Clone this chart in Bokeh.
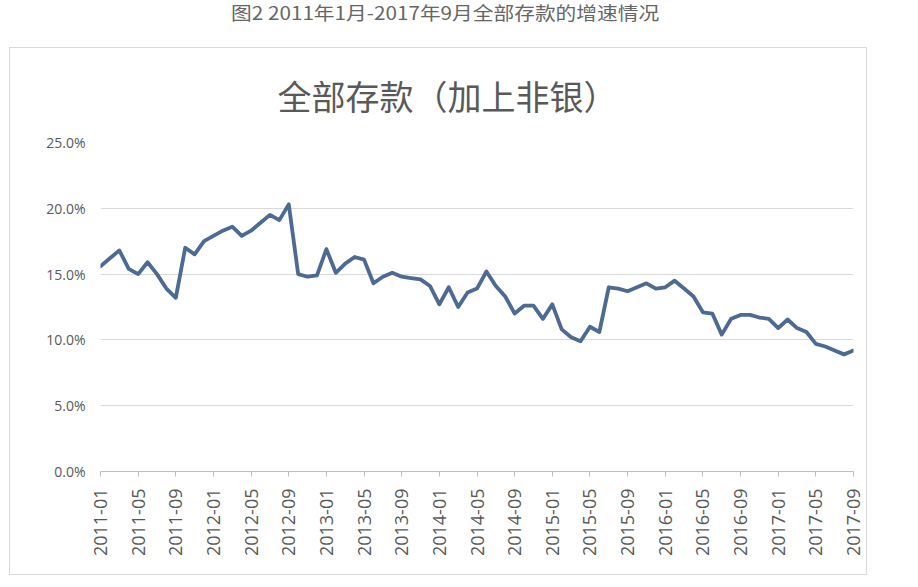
from bokeh.plotting import figure
from bokeh.models import (Range1d, FixedTicker, PrintfTickFormatter, Title, Div)
from bokeh.layouts import column
from bokeh.embed import file_html
from bokeh.resources import INLINE
import math

caption = "图2 2011年1月-2017年9月全部存款的增速情况"
chart_title = "全部存款（加上非银）"

# monthly growth (%) from 2011-01 to 2017-09
growth = [
    15.6, 16.2, 16.8, 15.4, 15.0, 15.9, 15.0, 13.9, 13.2, 17.0, 16.5, 17.5,   # 2011
    17.9, 18.3, 18.6, 17.9, 18.3, 18.9, 19.5, 19.1, 20.3, 15.0, 14.8, 14.9,   # 2012
    16.9, 15.1, 15.8, 16.3, 16.1, 14.3, 14.8, 15.1, 14.8, 14.7, 14.6, 14.1,   # 2013
    12.7, 14.0, 12.5, 13.6, 13.9, 15.2, 14.1, 13.3, 12.0, 12.6, 12.6, 11.6,   # 2014
    12.7, 10.8, 10.2, 9.9, 11.0, 10.6, 14.0, 13.9, 13.7, 14.0, 14.3, 13.9,    # 2015
    14.0, 14.5, 13.9, 13.3, 12.1, 12.0, 10.4, 11.6, 11.9, 11.9, 11.7, 11.6,   # 2016
    10.9, 11.55, 10.9, 10.6, 9.7, 9.5, 9.2, 8.9, 9.2,                         # 2017
]
month_index = list(range(len(growth)))

tick_labels = [
    "2011-01", "2011-05", "2011-09", "2012-01", "2012-05", "2012-09",
    "2013-01", "2013-05", "2013-09", "2014-01", "2014-05", "2014-09",
    "2015-01", "2015-05", "2015-09", "2016-01", "2016-05", "2016-09",
    "2017-01", "2017-05", "2017-09",
]
tick_step = 4
tick_positions = [i * tick_step for i in range(len(tick_labels))]
y_ticks = [0, 5, 10, 15, 20, 25]

GRAY_TXT = "#595959"
NUM_FONT = "Open Sans"
CJK_FONT = "Noto Sans CJK SC"

p = figure(width=858, height=528, output_backend="svg", toolbar_location=None,
           x_range=Range1d(0, len(growth) - 1), y_range=Range1d(0, 25),
           min_border_left=90, min_border_right=15, min_border_top=60,
           min_border_bottom=105, title=None)
p.margin = (0, 0, 0, 9)
p.styles = {"border": "1px solid #d9d9d9", "box-sizing": "border-box"}
p.outline_line_color = None
p.background_fill_color = "white"
p.border_fill_color = "white"

t = Title(text=chart_title, align="left", offset=177, standoff=43,
          vertical_align="middle",
          text_font=CJK_FONT, text_font_size="34px", text_color=GRAY_TXT,
          text_font_style="normal")
p.add_layout(t, "above")

p.line(month_index, growth, line_width=3.8, line_color="#4c6a93",
       line_join="round", line_cap="round")

# y axis
p.yaxis.ticker = FixedTicker(ticks=y_ticks)
p.yaxis.formatter = PrintfTickFormatter(format="%.1f%%")
p.yaxis.axis_line_color = None
p.yaxis.major_tick_line_color = None
p.yaxis.minor_tick_line_color = None
p.yaxis.major_label_standoff = 9
p.yaxis.major_label_text_font = NUM_FONT
p.yaxis.major_label_text_font_size = "14px"
p.yaxis.major_label_text_color = GRAY_TXT

# x axis
p.xaxis.ticker = FixedTicker(ticks=tick_positions)
p.xaxis.major_label_overrides = {pos: lab for pos, lab in zip(tick_positions, tick_labels)}
p.xaxis.major_label_orientation = math.pi / 2
p.xaxis.axis_line_color = "#bfbfbf"
p.xaxis.major_tick_line_color = "#bfbfbf"
p.xaxis.major_tick_out = 5
p.xaxis.major_tick_in = 0
p.xaxis.minor_tick_line_color = None
p.xaxis.major_label_standoff = 12
p.xaxis.major_label_text_font = NUM_FONT
p.xaxis.major_label_text_font_size = "18px"
p.xaxis.major_label_text_color = GRAY_TXT

p.xgrid.grid_line_color = None
p.ygrid.grid_line_color = "#d9d9d9"
p.ygrid.grid_line_width = 1

cap = Div(text=f'<div style="width:880px; text-align:center; line-height:1; margin-top:-2px;">'
               f'<span style="display:inline-block; transform:scaleX(1.15); '
               f'font-family:\'{CJK_FONT}\'; font-size:18px; color:#666666;">{caption}</span></div>',
          width=880, height=37)

layout = column(cap, p, spacing=0)

open("out.html", "w").write(file_html(layout, INLINE))
